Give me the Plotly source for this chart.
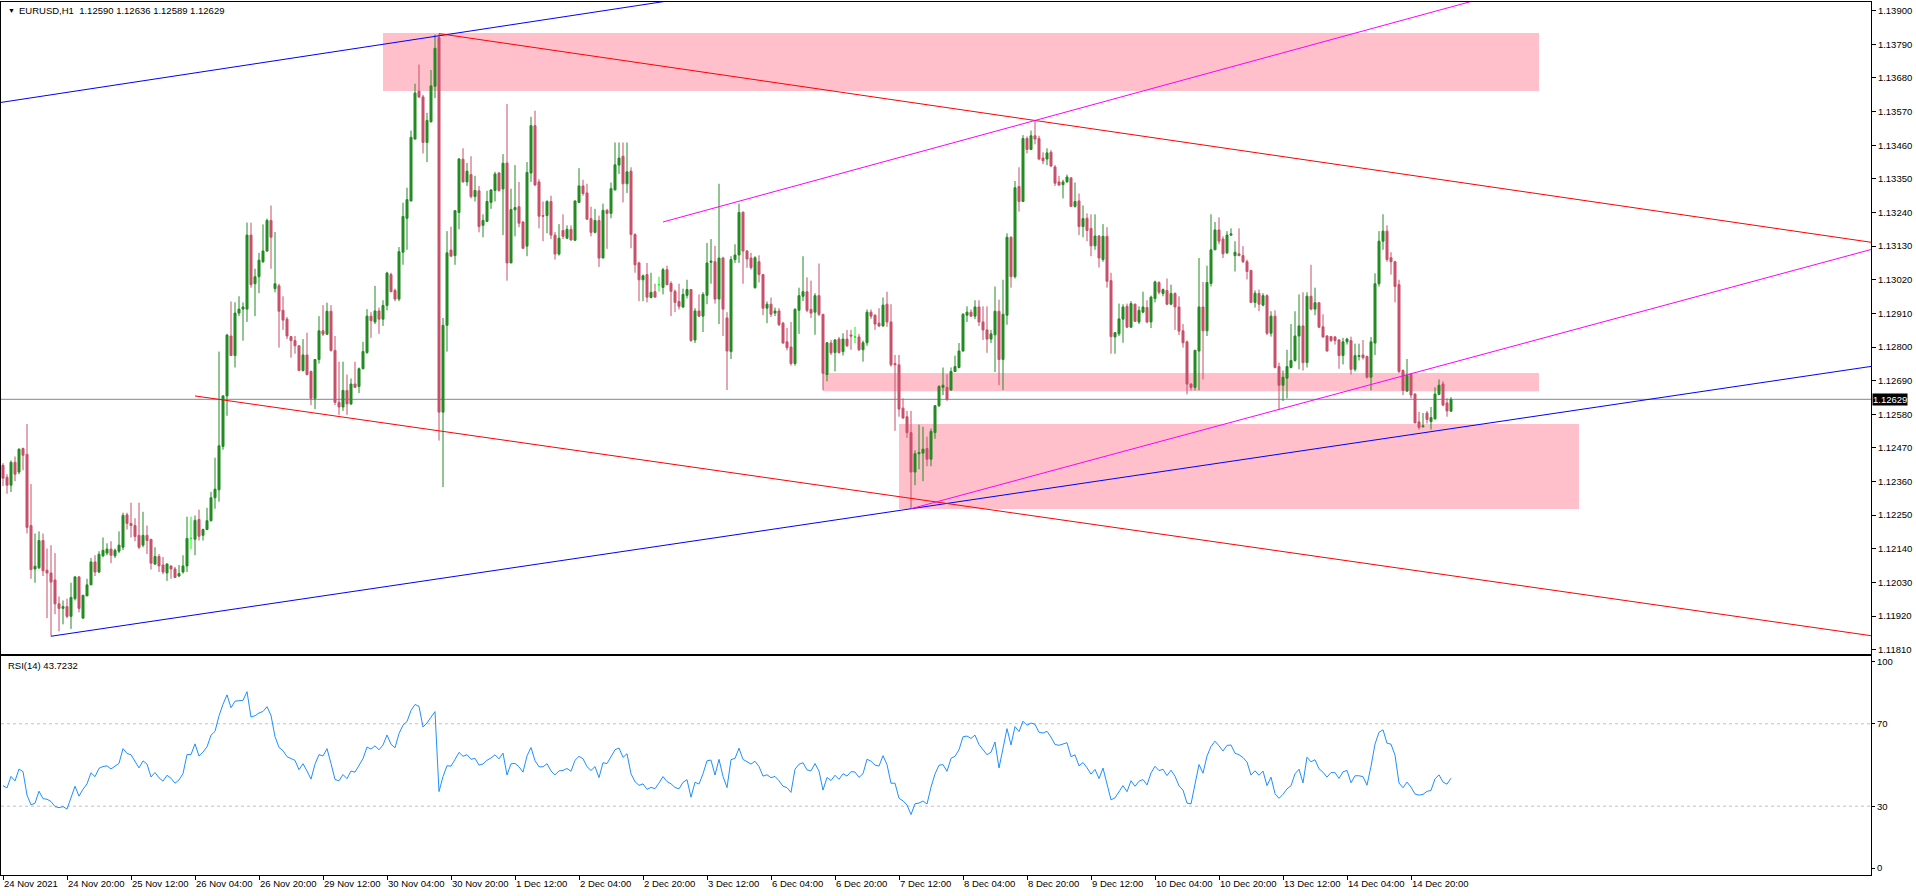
import plotly.graph_objects as go

symbol_title = "EURUSD,H1\u00a0\u00a01.12590 1.12636 1.12589 1.12629"
rsi_title = "RSI(14) 43.7232"

opens = [1.12413,1.12374,1.12348,1.12423,1.12391,1.12468,1.12449,1.12216,1.12074,1.12078,1.12167,1.12070,1.12061,1.12038,1.11960,1.11945,1.11951,1.11919,1.11977,1.12048,
1.11913,1.11986,1.12022,1.12097,1.12064,1.12117,1.12126,1.12139,1.12117,1.12132,1.12145,1.12251,1.12223,1.12216,1.12184,1.12152,1.12184,1.12171,1.12090,1.12115,
1.12087,1.12061,1.12084,1.12074,1.12051,1.12064,1.12084,1.12174,1.12171,1.12236,1.12184,1.12203,1.12232,1.12307,1.12333,1.12475,1.12640,1.12836,1.12772,1.12911,
1.12924,1.12924,1.13166,1.13007,1.13030,1.13079,1.13114,1.13214,1.12991,1.13000,1.12920,1.12891,1.12834,1.12821,1.12804,1.12723,1.12774,1.12720,1.12632,1.12759,
1.12853,1.12842,1.12917,1.12789,1.12619,1.12604,1.12658,1.12614,1.12679,1.12671,1.12729,1.12782,1.12901,1.12882,1.12918,1.12891,1.12936,1.13037,1.12985,1.12957,
1.13110,1.13221,1.13278,1.13480,1.13637,1.13618,1.13469,1.13537,1.13653,1.13812,1.12587,1.12871,1.13117,1.13099,1.13240,1.13414,1.13340,1.13364,1.13292,1.13311,
1.13198,1.13211,1.13273,1.13312,1.13369,1.13317,1.13402,1.13075,1.13249,1.13259,1.13209,1.13130,1.13369,1.13524,1.13340,1.13230,1.13230,1.13276,1.13166,1.13104,
1.13181,1.13156,1.13185,1.13149,1.13273,1.13327,1.13304,1.13220,1.13175,1.13214,1.13091,1.13247,1.13237,1.13314,1.13395,1.13424,1.13334,1.13375,1.13168,1.13075,
1.13020,1.13037,1.12962,1.12981,1.13004,1.12995,1.13053,1.13008,1.12982,1.12949,1.12931,1.12969,1.12988,1.12823,1.12918,1.12901,1.12969,1.13077,1.13079,1.12957,
1.13091,1.12895,1.12785,1.13086,1.13101,1.13241,1.13114,1.13091,1.12994,1.13079,1.13037,1.12927,1.12940,1.12911,1.12918,1.12878,1.12817,1.12800,1.12746,1.12920,
1.12966,1.12981,1.12923,1.12914,1.12968,1.12907,1.12710,1.12813,1.12782,1.12826,1.12785,1.12826,1.12839,1.12833,1.12833,1.12791,1.12814,1.12914,1.12904,1.12878,
1.12869,1.12940,1.12882,1.12746,1.12742,1.12600,1.12572,1.12520,1.12391,1.12451,1.12453,1.12468,1.12433,1.12520,1.12608,1.12668,1.12668,1.12659,1.12720,1.12733,
1.12787,1.12904,1.12914,1.12901,1.12931,1.12882,1.12856,1.12826,1.12840,1.12917,1.12759,1.12904,1.13159,1.13030,1.13325,1.13276,1.13482,1.13446,1.13491,1.13482,
1.13418,1.13415,1.13437,1.13389,1.13340,1.13331,1.13340,1.13353,1.13260,1.13278,1.13194,1.13221,1.13188,1.13131,1.13163,1.13086,1.13162,1.13017,1.12833,1.12843,
1.12891,1.12933,1.12865,1.12940,1.12882,1.12914,1.12929,1.12882,1.12959,1.13011,1.12975,1.12985,1.12940,1.12975,1.12931,1.12853,1.12817,1.12679,1.12668,1.12787,
1.12931,1.12853,1.13008,1.13118,1.13183,1.13153,1.13108,1.13166,1.13099,1.13105,1.13099,1.13079,1.13050,1.12946,1.12975,1.12937,1.12968,1.12845,1.12901,1.12736,
1.12675,1.12698,1.12733,1.12756,1.12836,1.12869,1.12749,1.12966,1.12924,1.12945,1.12866,1.12836,1.12834,1.12833,1.12823,1.12772,1.12817,1.12821,1.12727,1.12769,
1.12774,1.12769,1.12701,1.12813,1.13007,1.13146,1.13179,1.13092,1.13079,1.13004,1.12723,1.12656,1.12711,1.12646,1.12555,1.12539,1.12584,1.12556,1.12565,1.12645,
1.12679,1.12617,1.12590]

highs = [1.12420,1.12384,1.12429,1.12442,1.12468,1.12471,1.12548,1.12352,1.12190,1.12197,1.12190,1.12141,1.12152,1.12126,1.11984,1.11971,1.11977,1.12029,1.12051,1.12051,
1.11988,1.12042,1.12110,1.12119,1.12132,1.12177,1.12158,1.12165,1.12141,1.12197,1.12258,1.12258,1.12291,1.12240,1.12291,1.12261,1.12216,1.12171,1.12145,1.12123,
1.12113,1.12093,1.12084,1.12081,1.12087,1.12119,1.12245,1.12245,1.12249,1.12268,1.12206,1.12274,1.12326,1.12438,1.12785,1.12643,1.12843,1.12949,1.12946,1.12966,
1.12946,1.13207,1.13207,1.13056,1.13108,1.13201,1.13220,1.13263,1.13176,1.13007,1.12966,1.12898,1.12836,1.12836,1.12804,1.12826,1.12847,1.12723,1.12761,1.12901,
1.12937,1.12945,1.12937,1.12836,1.12752,1.12752,1.12710,1.12697,1.12752,1.12733,1.12817,1.12924,1.12914,1.13000,1.12929,1.12953,1.13046,1.13043,1.12991,1.13127,
1.13272,1.13321,1.13508,1.13661,1.13724,1.13625,1.13566,1.13706,1.13822,1.13825,1.12895,1.13179,1.13194,1.13246,1.13418,1.13450,1.13402,1.13424,1.13360,1.13327,
1.13234,1.13311,1.13314,1.13373,1.13373,1.13431,1.13595,1.13318,1.13395,1.13340,1.13211,1.13405,1.13553,1.13573,1.13349,1.13276,1.13280,1.13295,1.13176,1.13202,
1.13234,1.13198,1.13198,1.13278,1.13385,1.13347,1.13334,1.13259,1.13252,1.13230,1.13269,1.13252,1.13338,1.13469,1.13469,1.13469,1.13469,1.13388,1.13172,1.13079,
1.13037,1.13075,1.13043,1.13007,1.13030,1.13059,1.13066,1.13015,1.12988,1.13007,1.12991,1.13020,1.12988,1.12927,1.12972,1.12979,1.13140,1.13153,1.13131,1.13334,
1.13095,1.12914,1.13097,1.13136,1.13269,1.13243,1.13117,1.13108,1.13097,1.13100,1.13039,1.12949,1.12962,1.12929,1.12927,1.12882,1.12862,1.12882,1.12927,1.12994,
1.13097,1.13028,1.13017,1.12976,1.13073,1.12907,1.12817,1.12823,1.12826,1.12833,1.12845,1.12856,1.12856,1.12866,1.12843,1.12821,1.12923,1.12923,1.12907,1.12927,
1.12962,1.12981,1.12940,1.12774,1.12774,1.12632,1.12591,1.12591,1.12462,1.12546,1.12539,1.12507,1.12533,1.12610,1.12675,1.12733,1.12711,1.12733,1.12772,1.12813,
1.12911,1.12933,1.12923,1.12953,1.12953,1.12933,1.12933,1.12856,1.12998,1.12955,1.13020,1.13172,1.13162,1.13343,1.13388,1.13493,1.13489,1.13508,1.13541,1.13491,
1.13437,1.13450,1.13444,1.13395,1.13360,1.13347,1.13364,1.13356,1.13338,1.13302,1.13263,1.13237,1.13234,1.13234,1.13166,1.13202,1.13192,1.13043,1.12849,1.12942,
1.12940,1.12942,1.12950,1.12942,1.12933,1.12981,1.12953,1.12968,1.13017,1.13015,1.12991,1.13024,1.13004,1.12979,1.12966,1.12875,1.12821,1.12681,1.12791,1.13091,
1.13013,1.13066,1.13234,1.13209,1.13224,1.13162,1.13179,1.13188,1.13146,1.13188,1.13130,1.13086,1.13053,1.12985,1.12988,1.12976,1.12972,1.12917,1.12920,1.12749,
1.12723,1.12791,1.12875,1.12917,1.12972,1.12979,1.12979,1.13069,1.12994,1.12945,1.12907,1.12839,1.12836,1.12836,1.12826,1.12830,1.12830,1.12834,1.12811,1.12811,
1.12823,1.12772,1.12833,1.13041,1.13179,1.13234,1.13198,1.13110,1.13082,1.13020,1.12727,1.12761,1.12714,1.12649,1.12588,1.12584,1.12591,1.12604,1.12668,1.12694,
1.12688,1.12632,1.12636]

lows = [1.12345,1.12320,1.12326,1.12361,1.12384,1.12397,1.12190,1.12042,1.12029,1.12074,1.12051,1.11913,1.11854,1.11926,1.11870,1.11893,1.11913,1.11878,1.11971,1.11932,
1.11913,1.11986,1.12022,1.12051,1.12061,1.12113,1.12119,1.12093,1.12110,1.12126,1.12136,1.12203,1.12177,1.12165,1.12139,1.12145,1.12123,1.12072,1.12087,1.12064,
1.12057,1.12035,1.12042,1.12046,1.12048,1.12059,1.12064,1.12139,1.12119,1.12167,1.12167,1.12201,1.12229,1.12271,1.12294,1.12464,1.12575,1.12772,1.12733,1.12901,
1.12821,1.12882,1.12994,1.12901,1.12976,1.13075,1.13112,1.13056,1.12979,1.12798,1.12856,1.12826,1.12765,1.12778,1.12723,1.12720,1.12707,1.12610,1.12597,1.12746,
1.12836,1.12839,1.12785,1.12610,1.12578,1.12591,1.12578,1.12610,1.12668,1.12649,1.12727,1.12778,1.12830,1.12875,1.12843,1.12869,1.12920,1.12979,1.12950,1.12950,
1.13069,1.13118,1.13276,1.13480,1.13614,1.13433,1.13405,1.13534,1.13614,1.12494,1.12342,1.12785,1.13097,1.13069,1.13185,1.13338,1.13327,1.13286,1.13276,1.13175,
1.13159,1.13209,1.13252,1.13276,1.13308,1.13166,1.13017,1.13075,1.13162,1.13192,1.13121,1.13097,1.13340,1.13327,1.13188,1.13146,1.13172,1.13153,1.13086,1.13099,
1.13153,1.13153,1.13149,1.13149,1.13273,1.13295,1.13218,1.13162,1.13172,1.13062,1.13091,1.13121,1.13221,1.13312,1.13366,1.13273,1.13304,1.13123,1.13043,1.12950,
1.12950,1.12946,1.12959,1.12963,1.12981,1.12972,1.13002,1.12901,1.12914,1.12923,1.12927,1.12959,1.12817,1.12813,1.12898,1.12849,1.12940,1.13007,1.12942,1.12875,
1.12836,1.12659,1.12761,1.13075,1.13075,1.13007,1.13059,1.13053,1.12991,1.13011,1.12904,1.12878,1.12898,1.12901,1.12869,1.12811,1.12789,1.12739,1.12739,1.12843,
1.12950,1.12914,1.12895,1.12840,1.12901,1.12659,1.12688,1.12774,1.12720,1.12778,1.12772,1.12800,1.12791,1.12813,1.12787,1.12752,1.12804,1.12892,1.12856,1.12865,
1.12866,1.12866,1.12736,1.12526,1.12572,1.12565,1.12503,1.12271,1.12348,1.12400,1.12361,1.12410,1.12410,1.12500,1.12604,1.12643,1.12627,1.12658,1.12720,1.12730,
1.12785,1.12882,1.12898,1.12891,1.12869,1.12823,1.12781,1.12813,1.12718,1.12675,1.12659,1.12873,1.12994,1.13024,1.13243,1.13276,1.13433,1.13444,1.13463,1.13411,
1.13398,1.13395,1.13389,1.13327,1.13327,1.13286,1.13338,1.13260,1.13256,1.13166,1.13159,1.13146,1.13097,1.13118,1.13060,1.13079,1.12994,1.12778,1.12778,1.12836,
1.12814,1.12862,1.12862,1.12882,1.12875,1.12911,1.12878,1.12862,1.12946,1.12972,1.12966,1.12937,1.12937,1.12856,1.12839,1.12798,1.12645,1.12658,1.12658,1.12658,
1.12694,1.12836,1.12998,1.13117,1.13136,1.13091,1.13104,1.13163,1.13047,1.13097,1.13075,1.13021,1.12944,1.12929,1.12917,1.12933,1.12839,1.12834,1.12730,1.12593,
1.12623,1.12632,1.12730,1.12752,1.12727,1.12723,1.12733,1.12920,1.12904,1.12862,1.12830,1.12785,1.12817,1.12808,1.12729,1.12743,1.12808,1.12710,1.12720,1.12756,
1.12759,1.12697,1.12658,1.12774,1.12998,1.13118,1.13079,1.13037,1.12946,1.12714,1.12643,1.12653,1.12632,1.12550,1.12530,1.12537,1.12550,1.12530,1.12563,1.12643,
1.12606,1.12572,1.12589]

closes = [1.12371,1.12348,1.12423,1.12384,1.12466,1.12446,1.12210,1.12072,1.12083,1.12167,1.12068,1.12061,1.12031,1.11960,1.11945,1.11951,1.11919,1.11981,1.12048,1.11945,
1.11988,1.12022,1.12097,1.12064,1.12122,1.12135,1.12139,1.12119,1.12135,1.12152,1.12249,1.12223,1.12216,1.12180,1.12145,1.12184,1.12167,1.12093,1.12115,1.12084,
1.12064,1.12090,1.12074,1.12046,1.12059,1.12084,1.12174,1.12174,1.12233,1.12181,1.12203,1.12232,1.12307,1.12335,1.12477,1.12640,1.12839,1.12772,1.12911,1.12924,
1.12931,1.13166,1.13004,1.13030,1.13084,1.13114,1.13214,1.13159,1.13007,1.12917,1.12888,1.12836,1.12821,1.12804,1.12723,1.12774,1.12710,1.12632,1.12759,1.12853,
1.12842,1.12917,1.12789,1.12619,1.12604,1.12658,1.12614,1.12679,1.12668,1.12729,1.12785,1.12901,1.12886,1.12918,1.12891,1.12936,1.13042,1.12981,1.12957,1.13112,
1.13227,1.13282,1.13486,1.13631,1.13618,1.13469,1.13541,1.13654,1.13777,1.12587,1.12871,1.13108,1.13097,1.13246,1.13415,1.13340,1.13375,1.13292,1.13312,1.13194,
1.13214,1.13276,1.13314,1.13366,1.13312,1.13401,1.13075,1.13250,1.13256,1.13205,1.13123,1.13371,1.13524,1.13330,1.13228,1.13228,1.13276,1.13166,1.13104,1.13156,
1.13162,1.13185,1.13150,1.13278,1.13327,1.13302,1.13218,1.13175,1.13214,1.13091,1.13247,1.13237,1.13318,1.13396,1.13418,1.13334,1.13373,1.13168,1.13069,1.13020,
1.13033,1.12963,1.12979,1.12963,1.13004,1.13053,1.13004,1.12982,1.12946,1.12933,1.12972,1.12988,1.12821,1.12918,1.12901,1.12972,1.13075,1.13081,1.12957,1.13091,
1.12924,1.12787,1.13086,1.13101,1.13240,1.13114,1.13088,1.13060,1.13092,1.13037,1.12927,1.12940,1.12907,1.12918,1.12873,1.12813,1.12798,1.12746,1.12923,1.12968,
1.12981,1.12920,1.12911,1.12968,1.12907,1.12714,1.12814,1.12781,1.12823,1.12782,1.12826,1.12804,1.12836,1.12833,1.12791,1.12814,1.12914,1.12901,1.12875,1.12869,
1.12937,1.12882,1.12742,1.12742,1.12597,1.12568,1.12520,1.12391,1.12451,1.12455,1.12466,1.12433,1.12524,1.12608,1.12671,1.12675,1.12627,1.12720,1.12736,1.12787,
1.12907,1.12914,1.12901,1.12931,1.12882,1.12856,1.12826,1.12843,1.12917,1.12759,1.12907,1.13159,1.13030,1.13321,1.13276,1.13482,1.13446,1.13491,1.13480,1.13415,
1.13409,1.13435,1.13392,1.13336,1.13330,1.13340,1.13356,1.13260,1.13276,1.13194,1.13220,1.13181,1.13131,1.13163,1.13091,1.13162,1.13015,1.12834,1.12847,1.12892,
1.12931,1.12865,1.12942,1.12884,1.12920,1.12931,1.12882,1.12963,1.13013,1.12979,1.12988,1.12940,1.12975,1.12931,1.12852,1.12814,1.12679,1.12668,1.12789,1.12931,
1.12853,1.13011,1.13118,1.13183,1.13146,1.13105,1.13166,1.13170,1.13110,1.13099,1.13079,1.13047,1.12946,1.12976,1.12940,1.12968,1.12845,1.12901,1.12733,1.12675,
1.12701,1.12736,1.12756,1.12836,1.12869,1.12749,1.12966,1.12924,1.12945,1.12865,1.12833,1.12787,1.12821,1.12821,1.12772,1.12817,1.12826,1.12727,1.12772,1.12772,
1.12765,1.12701,1.12817,1.13007,1.13146,1.13179,1.13086,1.13079,1.12998,1.12720,1.12658,1.12707,1.12643,1.12552,1.12537,1.12542,1.12563,1.12569,1.12646,1.12675,
1.12610,1.12591,1.12629]

tick_bars = [0,16,32,48,64,80,96,112,128,144,160,176,192,208,224,240,256,272,288,304,320,336,352]
tick_labels = ["24 Nov 2021","24 Nov 20:00","25 Nov 12:00","26 Nov 04:00","26 Nov 20:00","29 Nov 12:00",
               "30 Nov 04:00","30 Nov 20:00","1 Dec 12:00","2 Dec 04:00","2 Dec 20:00","3 Dec 12:00",
               "6 Dec 04:00","6 Dec 20:00","7 Dec 12:00","8 Dec 04:00","8 Dec 20:00","9 Dec 12:00",
               "10 Dec 04:00","10 Dec 20:00","13 Dec 12:00","14 Dec 04:00","14 Dec 20:00"]
price_ticks = [1.11810,1.11920,1.12030,1.12140,1.12250,1.12360,1.12470,1.12580,1.12690,1.12800,
               1.12910,1.13020,1.13130,1.13240,1.13350,1.13460,1.13570,1.13680,1.13790,1.13900]
rsi_ticks = [0, 30, 70, 100]
rsi_levels = [30, 70]
rsi_period = 14
# RSI state carried in from the bars before the window (read: RSI ~40 on the first bar)
rsi_seed_avg_gain = 0.00024
rsi_seed_avg_loss = 0.00036

# trend lines: anchor bars and prices
blue_upper_x = [-0.5, 109]; blue_upper_y = [1.13600, 1.13818]
blue_lower_x = [12, 227];   blue_lower_y = [1.11854, 1.12271]
red_upper_x = [109, 258];   red_upper_y = [1.13825, 1.13541]
red_lower_x = [48, 227];    red_lower_y = [1.12640, 1.12305]
mag_upper_x = [165, 258];   mag_upper_y = [1.13209, 1.13541]
mag_lower_x = [227, 349];   mag_lower_y = [1.12271, 1.12702]

# zones: [bar_from, bar_to, price_low, price_high]
zone_top = [95, 384, 1.13637, 1.13827]
zone_mid = [205, 384, 1.12655, 1.12715]
zone_low = [224, 394, 1.12270, 1.12548]

BULL = "#228B22"
BEAR = "#C8506A"
DOJI = "#00FF00"
FONT = "Liberation Sans"

n = len(closes)
bars = list(range(n))
X_MAX = 467

# RSI(14), Wilder smoothing of the close-to-close changes
ag, al = rsi_seed_avg_gain, rsi_seed_avg_loss
rsi = [100 - 100 / (1 + ag / al)]
for i in range(1, n):
    ch = closes[i] - closes[i - 1]
    ag = (ag * (rsi_period - 1) + max(ch, 0)) / rsi_period
    al = (al * (rsi_period - 1) + max(-ch, 0)) / rsi_period
    rsi.append(100 - 100 / (1 + ag / al) if al > 0 else 100)

fig = go.Figure()

norm = [i for i in bars if opens[i] != closes[i]]
doji = [i for i in bars if opens[i] == closes[i]]

fig.add_trace(go.Candlestick(
    x=norm, open=[opens[i] for i in norm], high=[highs[i] for i in norm],
    low=[lows[i] for i in norm], close=[closes[i] for i in norm],
    increasing=dict(line=dict(color=BULL, width=1), fillcolor=BULL),
    decreasing=dict(line=dict(color=BEAR, width=1), fillcolor=BEAR),
    whiskerwidth=0, showlegend=False, hoverinfo="skip", xaxis="x", yaxis="y"))
fig.add_trace(go.Candlestick(
    x=doji, open=[opens[i] for i in doji], high=[highs[i] for i in doji],
    low=[lows[i] for i in doji], close=[closes[i] for i in doji],
    increasing=dict(line=dict(color=DOJI, width=1), fillcolor=DOJI),
    decreasing=dict(line=dict(color=DOJI, width=1), fillcolor=DOJI),
    whiskerwidth=0, showlegend=False, hoverinfo="skip", xaxis="x", yaxis="y"))


def ray(xs, ys, x_end):
    k = (ys[1] - ys[0]) / (xs[1] - xs[0])
    return [xs[0], x_end], [ys[0], ys[0] + k * (x_end - xs[0])]


for xs, ys, col in [(blue_upper_x, blue_upper_y, "#0000FF"), (blue_lower_x, blue_lower_y, "#0000FF"),
                    (red_upper_x, red_upper_y, "#FF0000"), (red_lower_x, red_lower_y, "#FF0000"),
                    (mag_upper_x, mag_upper_y, "#FF00FF"), (mag_lower_x, mag_lower_y, "#FF00FF")]:
    rx, ry = ray(xs, ys, X_MAX)
    fig.add_trace(go.Scatter(x=rx, y=ry, mode="lines", line=dict(color=col, width=1),
                             showlegend=False, hoverinfo="skip", xaxis="x", yaxis="y"))

fig.add_trace(go.Scatter(x=bars, y=rsi, mode="lines", line=dict(color="#1E90FF", width=1),
                         showlegend=False, hoverinfo="skip", xaxis="x2", yaxis="y2"))

shapes = []
for z in (zone_top, zone_mid, zone_low):
    shapes.append(dict(type="rect", xref="x", yref="y", x0=z[0], x1=z[1], y0=z[2], y1=z[3],
                       fillcolor="#FFC0CB", line=dict(width=0), layer="below"))
shapes.append(dict(type="line", xref="paper", yref="y", x0=0, x1=1, y0=closes[-1], y1=closes[-1],
                   line=dict(color="#778899", width=1), layer="below"))
for lv in rsi_levels:
    shapes.append(dict(type="line", xref="paper", yref="y2", x0=0, x1=1, y0=lv, y1=lv,
                       line=dict(color="#C0C0C0", width=1, dash="3px,3px"), layer="below"))

W, H = 1916, 896
ML, MR, MT, MB = 1, 45, 2, 21
PH = H - MT - MB


def px_x(p):
    return (p - ML) / (W - ML - MR)


def px_y(p):
    return (H - MB - p) / PH


annotations = [
    dict(text="\u25BC", xref="paper", yref="paper", x=px_x(6), y=px_y(10.5), xanchor="left", yanchor="middle",
         showarrow=False, font=dict(size=7, color="black", family=FONT)),
    dict(text=symbol_title, xref="paper", yref="paper", x=px_x(17), y=px_y(10.5), xanchor="left",
         yanchor="middle", showarrow=False, font=dict(size=9.5, color="black", family=FONT)),
    dict(text=rsi_title, xref="paper", yref="paper", x=px_x(6), y=px_y(665), xanchor="left",
         yanchor="middle", showarrow=False, font=dict(size=9.5, color="black", family=FONT)),
    dict(text=f"{closes[-1]:.5f}", xref="paper", yref="y", x=1, y=closes[-1], xanchor="left",
         yanchor="middle", xshift=1, showarrow=False, bgcolor="black", borderpad=0,
         font=dict(size=9.5, color="white", family=FONT)),
]

main_dom = [(H - MB - 654) / PH, 1]
rsi_dom = [0, (H - MB - 656) / PH]

fig.update_layout(
    width=W, height=H, autosize=False,
    margin=dict(l=ML, r=MR, t=MT, b=MB, pad=0),
    paper_bgcolor="white", plot_bgcolor="white",
    font=dict(family=FONT, size=9.5, color="black"),
    boxgap=0.5, boxgroupgap=0,
    shapes=shapes, annotations=annotations,
    xaxis=dict(domain=[0, 1], range=[-0.5, X_MAX], anchor="y", showgrid=False, zeroline=False,
               showline=True, mirror=True, linecolor="black", linewidth=1, showticklabels=False,
               ticks="", rangeslider=dict(visible=False)),
    yaxis=dict(domain=main_dom, range=[1.117959, 1.139285], side="right", anchor="x",
               tickvals=price_ticks, tickformat=".5f", ticks="outside", ticklen=4, tickcolor="black",
               showgrid=False, zeroline=False, showline=True, mirror=True, linecolor="black", linewidth=1),
    xaxis2=dict(domain=[0, 1], range=[-0.5, X_MAX], anchor="y2", matches="x", showgrid=False,
                zeroline=False, showline=True, mirror=True, linecolor="black", linewidth=1,
                tickvals=tick_bars, ticktext=tick_labels, ticks="outside", ticklen=4, tickcolor="black",
                ticklabelposition="outside right", tickangle=0),
    yaxis2=dict(domain=rsi_dom, range=[-3.4, 102.9], side="right", anchor="x2", tickvals=rsi_ticks,
                ticks="outside", ticklen=3, tickcolor="black", showgrid=False, zeroline=False,
                showline=True, mirror=True, linecolor="black", linewidth=1),
)

fig.write_html("out.html", config={"displayModeBar": False},
               post_script="document.body.style.margin='0px';document.body.style.overflow='hidden';")
